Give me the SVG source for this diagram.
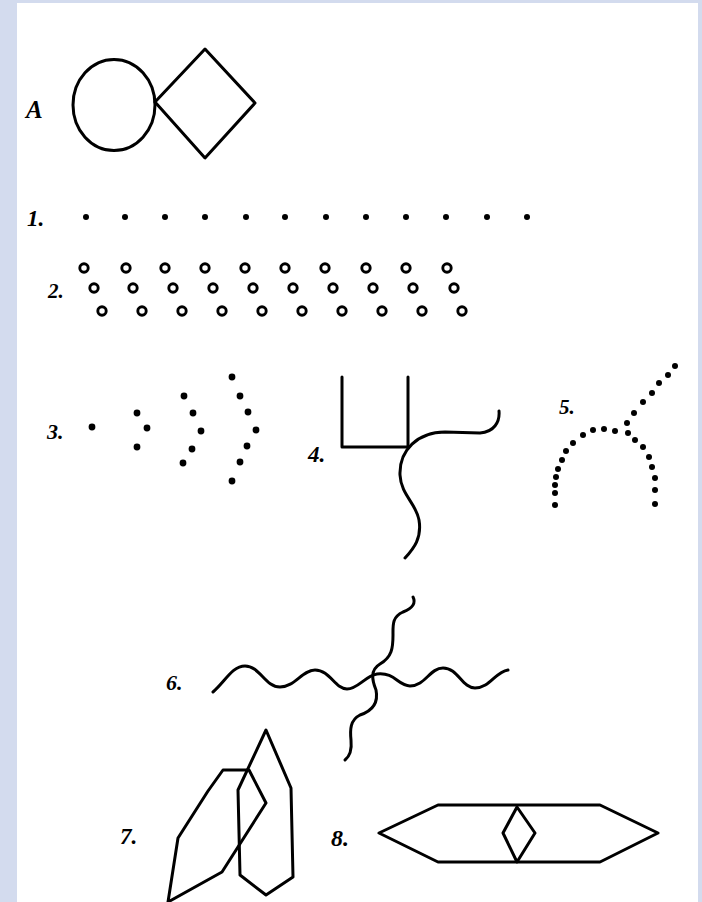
<svg xmlns="http://www.w3.org/2000/svg" width="702" height="902" viewBox="0 0 702 902">
<style>
.ln{fill:none;stroke:#000;stroke-width:3;stroke-linejoin:round;stroke-linecap:round}
.dt{fill:#000}
.oc{fill:none;stroke:#000;stroke-width:2.9}
.lb{font-family:"Liberation Serif","DejaVu Serif",serif;font-weight:bold;font-style:italic;fill:#000}
</style>
<rect x="0" y="0" width="702" height="902" fill="#d3dbee"/>
<rect x="17" y="3" width="681" height="899" fill="#ffffff"/>

<g id="figA">
<text class="lb" x="26" y="118" font-size="25">A</text>
<ellipse class="ln" cx="114" cy="105" rx="41" ry="45.5"/>
<polygon class="ln" points="155,102 205,49 255,103 205,158"/>
</g>

<g id="fig1">
<text class="lb" x="27" y="226" font-size="23">1.</text>
<g class="dt">
<circle cx="86" cy="217" r="3"/><circle cx="125" cy="217" r="3"/><circle cx="165" cy="217" r="3"/>
<circle cx="205" cy="217" r="3"/><circle cx="246" cy="217" r="3"/><circle cx="285" cy="217" r="3"/>
<circle cx="326" cy="217" r="3"/><circle cx="366" cy="217" r="3"/><circle cx="406" cy="217" r="3"/>
<circle cx="446" cy="217" r="3"/><circle cx="487" cy="217" r="3"/><circle cx="527" cy="217" r="3"/>
</g>
</g>

<g id="fig2">
<text class="lb" x="48" y="298" font-size="21">2.</text>
<g class="oc">
<circle cx="84" cy="268" r="4.2"/><circle cx="126" cy="268" r="4.2"/><circle cx="165" cy="268" r="4.2"/><circle cx="205" cy="268" r="4.2"/><circle cx="245" cy="268" r="4.2"/>
<circle cx="285" cy="268" r="4.2"/><circle cx="325" cy="268" r="4.2"/><circle cx="366" cy="268" r="4.2"/><circle cx="406" cy="268" r="4.2"/><circle cx="447" cy="268" r="4.2"/>
<circle cx="94" cy="288" r="4.2"/><circle cx="133" cy="288" r="4.2"/><circle cx="173" cy="288" r="4.2"/><circle cx="213" cy="288" r="4.2"/><circle cx="253" cy="288" r="4.2"/>
<circle cx="293" cy="288" r="4.2"/><circle cx="333" cy="288" r="4.2"/><circle cx="373" cy="288" r="4.2"/><circle cx="413" cy="288" r="4.2"/><circle cx="454" cy="288" r="4.2"/>
<circle cx="102" cy="311" r="4.2"/><circle cx="142" cy="311" r="4.2"/><circle cx="182" cy="311" r="4.2"/><circle cx="222" cy="311" r="4.2"/><circle cx="262" cy="311" r="4.2"/>
<circle cx="302" cy="311" r="4.2"/><circle cx="342" cy="311" r="4.2"/><circle cx="382" cy="311" r="4.2"/><circle cx="422" cy="311" r="4.2"/><circle cx="462" cy="311" r="4.2"/>
</g>
</g>

<g id="fig3">
<text class="lb" x="47" y="439" font-size="22">3.</text>
<g class="dt">
<circle cx="92" cy="427" r="3.4"/>
<circle cx="137" cy="413" r="3.4"/><circle cx="147" cy="428" r="3.4"/><circle cx="137" cy="447" r="3.4"/>
<circle cx="184" cy="396" r="3.4"/><circle cx="193" cy="413" r="3.4"/><circle cx="201" cy="431" r="3.4"/><circle cx="192" cy="449" r="3.4"/><circle cx="183" cy="463" r="3.4"/>
<circle cx="232" cy="377" r="3.4"/><circle cx="240" cy="396" r="3.4"/><circle cx="248" cy="412" r="3.4"/><circle cx="256" cy="430" r="3.4"/><circle cx="247" cy="446" r="3.4"/><circle cx="240" cy="462" r="3.4"/><circle cx="232" cy="481" r="3.4"/>
</g>
</g>

<g id="fig4">
<text class="lb" x="308" y="462" font-size="23">4.</text>
<polyline class="ln" points="342,377 342,447 408,447 408,377"/>
<path class="ln" d="M405,558 C414,548 422,538 419,520 C416,503 401,495 400,475 C399,450 418,432 445,432 L480,433 C494,432 500,422 499,411"/>
</g>

<g id="fig5">
<text class="lb" x="559" y="414" font-size="21">5.</text>
<g class="dt">
<circle cx="675" cy="366" r="3"/><circle cx="668" cy="375" r="3"/><circle cx="659" cy="383" r="3"/><circle cx="652" cy="393" r="3"/><circle cx="643" cy="402" r="3"/><circle cx="634" cy="413" r="3"/><circle cx="627" cy="423" r="3"/>
<circle cx="615" cy="431" r="3"/><circle cx="604" cy="429" r="3"/><circle cx="593" cy="430" r="3"/><circle cx="583" cy="435" r="3"/><circle cx="573" cy="443" r="3"/><circle cx="566" cy="451" r="3"/><circle cx="562" cy="460" r="3"/><circle cx="558" cy="469" r="3"/><circle cx="556" cy="477" r="3"/><circle cx="555" cy="485" r="3"/><circle cx="555" cy="493" r="3"/><circle cx="555" cy="505" r="3"/>
<circle cx="628" cy="433" r="3"/><circle cx="635" cy="440" r="3"/><circle cx="643" cy="447" r="3"/><circle cx="649" cy="457" r="3"/><circle cx="652" cy="467" r="3"/><circle cx="655" cy="478" r="3"/><circle cx="655" cy="490" r="3"/><circle cx="655" cy="504" r="3"/>
</g>
</g>

<g id="fig6">
<text class="lb" x="166" y="690" font-size="22">6.</text>
<path class="ln" d="M213,692 C225,682 232,666 245,666 C260,666 265,687 280,687 C295,687 302,670 315,670 C330,670 335,689 347,689 C358,689 365,676 377,674 C395,672 398,686 410,686 C425,686 430,668 443,668 C458,668 462,688 475,688 C490,688 495,672 508,670"/>
<path class="ln" d="M413,597 C416,603 413,608 403,612 C392,617 393,625 393,635 C393,648 392,657 380,664 C370,670 372,680 376,690 C378,700 375,710 360,715 C350,720 350,730 351,740 C352,750 350,756 345,760"/>
</g>

<g id="fig7">
<text class="lb" x="120" y="844" font-size="23">7.</text>
<polygon class="ln" points="223,770 249,770 266,803 222,872 168,902 178,838 208,791"/>
<polygon class="ln" points="266,730 291,788 293,877 266,895 240,875 238,790"/>
</g>

<g id="fig8">
<text class="lb" x="331" y="846" font-size="24">8.</text>
<polygon class="ln" points="379,833 438,805 600,805 658,833 600,862 438,862"/>
<polygon class="ln" points="517,807 535,833 517,862 503,833"/>
</g>
</svg>
